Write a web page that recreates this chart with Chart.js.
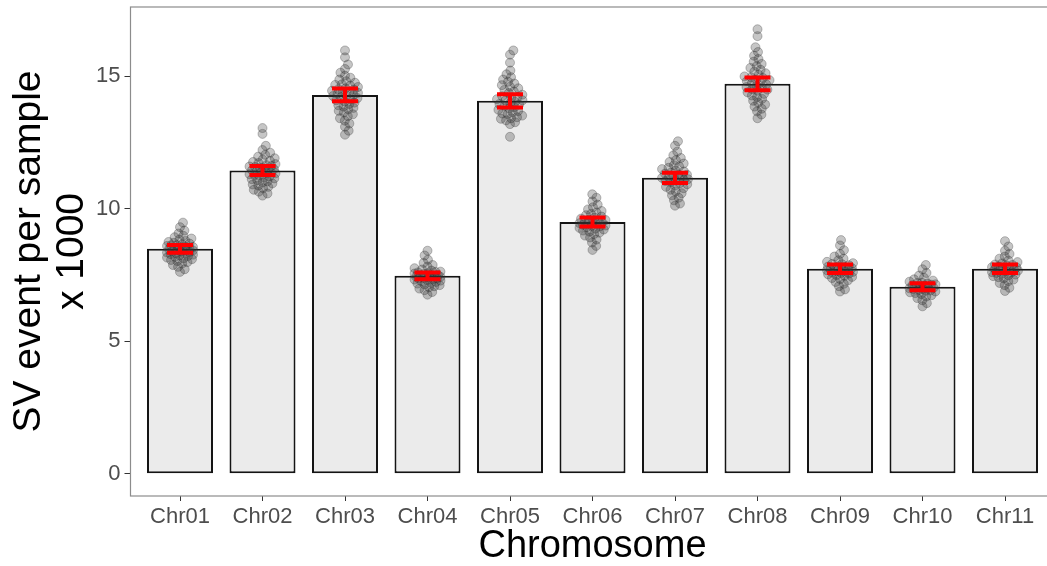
<!DOCTYPE html>
<html>
<head>
<meta charset="utf-8">
<title>SV events per chromosome</title>
<script src="https://cdn.jsdelivr.net/npm/chart.js@4.4.1/dist/chart.umd.min.js"></script>
<style>
  html, body { margin: 0; padding: 0; background: #fff; overflow: hidden; }
  #wrap { width: 1060px; height: 566px; }
</style>
</head>
<body>
<div id="wrap"><canvas id="svChart" width="1060" height="566"></canvas></div>
<script>
// ===== Data =====
const chromosomes = ['Chr01', 'Chr02', 'Chr03', 'Chr04', 'Chr05', 'Chr06', 'Chr07', 'Chr08', 'Chr09', 'Chr10', 'Chr11'];

// mean SV events per sample (x 1000) and standard error
const meanEvents = [8.49, 11.45, 14.30, 7.47, 14.08, 9.50, 11.17, 14.72, 7.74, 7.06, 7.74];
const stdErr = [0.15, 0.17, 0.24, 0.13, 0.25, 0.17, 0.19, 0.24, 0.16, 0.13, 0.16];

// per-sample counts (x 1000)
const chr01 = [9.48, 9.31, 9.18, 9.07, 8.98, 8.93, 8.88, 8.84, 8.79, 8.75, 8.72, 8.69, 8.66, 8.63, 8.60, 8.58, 8.56, 8.53, 8.51, 8.49, 8.47, 8.45, 8.43, 8.41, 8.39, 8.37, 8.35, 8.33, 8.31, 8.29, 8.27, 8.25, 8.22, 8.19, 8.16, 8.13, 8.10, 8.07, 8.03, 7.99, 7.94, 7.88, 7.81, 7.72, 7.62, 8.54, 8.62, 8.44];
const chr02 = [13.05, 12.83, 12.38, 12.22, 12.12, 12.04, 11.97, 11.91, 11.86, 11.81, 11.77, 11.73, 11.69, 11.65, 11.62, 11.58, 11.55, 11.52, 11.49, 11.46, 11.43, 11.40, 11.37, 11.34, 11.31, 11.28, 11.25, 11.22, 11.18, 11.15, 11.12, 11.08, 11.04, 11.00, 10.96, 10.92, 10.88, 10.83, 10.78, 10.72, 10.65, 10.58, 10.50, 11.50, 11.36, 11.60];
const chr03 = [15.98, 15.72, 15.45, 15.28, 15.14, 15.03, 14.95, 14.88, 14.82, 14.76, 14.70, 14.65, 14.60, 14.55, 14.50, 14.46, 14.42, 14.38, 14.34, 14.30, 14.26, 14.22, 14.18, 14.14, 14.10, 14.06, 14.01, 13.96, 13.91, 13.86, 13.81, 13.76, 13.70, 13.64, 13.57, 13.50, 13.42, 13.33, 13.22, 13.10, 12.95, 12.80, 14.40, 14.52, 14.28, 14.68];
const chr04 = [8.42, 8.24, 8.08, 7.96, 7.88, 7.82, 7.76, 7.71, 7.67, 7.63, 7.60, 7.57, 7.54, 7.51, 7.49, 7.47, 7.45, 7.43, 7.41, 7.39, 7.37, 7.35, 7.33, 7.31, 7.29, 7.27, 7.24, 7.21, 7.18, 7.15, 7.12, 7.08, 7.04, 6.99, 6.93, 6.86, 6.76, 7.50, 7.44, 7.56, 7.38, 7.62];
const chr05 = [15.98, 15.82, 15.52, 15.22, 15.08, 14.97, 14.88, 14.80, 14.73, 14.67, 14.61, 14.55, 14.49, 14.43, 14.37, 14.31, 14.25, 14.19, 14.14, 14.09, 14.04, 13.99, 13.94, 13.89, 13.84, 13.79, 13.74, 13.69, 13.64, 13.58, 13.52, 13.46, 13.40, 13.34, 13.27, 13.20, 12.72, 14.10, 13.96, 14.22, 13.60, 13.42];
const chr06 = [10.55, 10.42, 10.28, 10.16, 10.06, 9.98, 9.92, 9.86, 9.81, 9.76, 9.71, 9.67, 9.63, 9.59, 9.55, 9.52, 9.49, 9.46, 9.43, 9.40, 9.37, 9.34, 9.31, 9.28, 9.25, 9.22, 9.18, 9.14, 9.10, 9.05, 8.99, 8.92, 8.84, 8.73, 8.60, 8.45, 9.50, 9.58, 9.44, 9.36];
const chr07 = [12.55, 12.38, 12.16, 12.02, 11.92, 11.84, 11.77, 11.71, 11.65, 11.60, 11.55, 11.50, 11.45, 11.41, 11.37, 11.33, 11.29, 11.25, 11.21, 11.17, 11.13, 11.09, 11.05, 11.01, 10.97, 10.93, 10.88, 10.83, 10.78, 10.72, 10.66, 10.59, 10.51, 10.42, 10.32, 10.20, 10.12, 11.20, 11.12, 11.30, 11.06];
const chr08 = [16.78, 16.52, 16.10, 15.92, 15.78, 15.66, 15.56, 15.47, 15.39, 15.32, 15.25, 15.18, 15.12, 15.06, 15.00, 14.94, 14.88, 14.82, 14.76, 14.70, 14.64, 14.58, 14.52, 14.46, 14.40, 14.34, 14.28, 14.22, 14.15, 14.08, 14.01, 13.94, 13.86, 13.78, 13.68, 13.56, 13.42, 14.74, 14.86, 14.60, 14.96, 14.50];
const chr09 = [8.82, 8.62, 8.44, 8.30, 8.20, 8.12, 8.06, 8.00, 7.95, 7.91, 7.87, 7.83, 7.80, 7.77, 7.74, 7.71, 7.68, 7.65, 7.62, 7.59, 7.56, 7.53, 7.50, 7.47, 7.43, 7.39, 7.35, 7.30, 7.24, 7.17, 7.08, 6.96, 6.88, 7.76, 7.70, 7.82, 7.64, 7.92, 7.58];
const chr10 = [7.88, 7.72, 7.58, 7.48, 7.40, 7.34, 7.29, 7.25, 7.21, 7.18, 7.15, 7.12, 7.09, 7.06, 7.03, 7.00, 6.97, 6.94, 6.91, 6.88, 6.85, 6.82, 6.78, 6.74, 6.69, 6.63, 6.55, 6.44, 6.32, 7.08, 7.02, 7.14, 6.98, 7.20, 6.92];
const chr11 = [8.78, 8.58, 8.42, 8.30, 8.20, 8.12, 8.05, 7.99, 7.94, 7.90, 7.86, 7.82, 7.79, 7.76, 7.73, 7.70, 7.67, 7.64, 7.61, 7.58, 7.55, 7.52, 7.49, 7.46, 7.42, 7.38, 7.33, 7.27, 7.20, 7.12, 7.02, 6.90, 7.75, 7.80, 7.68, 7.88, 7.60];
const samples = [chr01, chr02, chr03, chr04, chr05, chr06, chr07, chr08, chr09, chr10, chr11];

const yTicks = [0, 5, 10, 15];

// ===== Beeswarm layout =====
// approximate pixel sizes of one unit on each axis, used only to spread the dots
const PX_PER_X = 82.7;
const PX_PER_Y = 26.5;
const SWARM_SPACING = 5.4;
const SWARM_HALF_WIDTH = 13;

function swarmOffsets(values) {
  const order = values.map((v, k) => k).sort((a, b) => values[a] - values[b]);
  const placed = [];
  const out = new Array(values.length);
  const d2 = SWARM_SPACING * SWARM_SPACING;
  order.forEach(k => {
    const y = values[k] * PX_PER_Y;
    const near = placed.filter(p => Math.abs(p.y - y) < SWARM_SPACING);
    const cands = [0];
    near.forEach(p => {
      const dx = Math.sqrt(d2 - (p.y - y) * (p.y - y));
      cands.push(p.x + dx, p.x - dx);
    });
    cands.sort((a, b) => Math.abs(a) - Math.abs(b));
    let x = cands.find(c => Math.abs(c) <= SWARM_HALF_WIDTH &&
      near.every(p => (p.x - c) ** 2 + (p.y - y) ** 2 >= d2 - 1e-6));
    if (x === undefined) {
      // no free slot inside the swarm width: take the least crowded spot
      let best = -Infinity;
      for (let c = -SWARM_HALF_WIDTH; c <= SWARM_HALF_WIDTH; c += 0.5) {
        const dmin = Math.min(...near.map(p => (p.x - c) ** 2 + (p.y - y) ** 2));
        if (dmin > best) { best = dmin; x = c; }
      }
    }
    placed.push({ x, y });
    out[k] = x / PX_PER_X;
  });
  return out;
}

const swarmPoints = [];
samples.forEach((vals, i) => {
  const offs = swarmOffsets(vals);
  vals.forEach((v, k) => swarmPoints.push({ x: i + offs[k], y: v }));
});

// ===== Plugins =====
const errorBars = {
  id: 'errorBars',
  afterDatasetsDraw(chart) {
    const { ctx, scales: { x, y } } = chart;
    ctx.save();
    ctx.strokeStyle = '#FF0000';
    ctx.lineWidth = 4;
    meanEvents.forEach((m, i) => {
      const cx = x.getPixelForValue(i);
      const top = y.getPixelForValue(m + stdErr[i]);
      const bot = y.getPixelForValue(m - stdErr[i]);
      ctx.beginPath();
      ctx.moveTo(cx, top);
      ctx.lineTo(cx, bot);
      ctx.moveTo(cx - 13, top);
      ctx.lineTo(cx + 13, top);
      ctx.moveTo(cx - 13, bot);
      ctx.lineTo(cx + 13, bot);
      ctx.stroke();
    });
    ctx.restore();
  }
};

const panelBorder = {
  id: 'panelBorder',
  afterDraw(chart) {
    const { ctx, chartArea: a } = chart;
    ctx.save();
    ctx.strokeStyle = '#8c8c8c';
    ctx.lineWidth = 1.2;
    ctx.strokeRect(a.left, a.top, a.right - a.left, a.bottom - a.top);
    ctx.restore();
  }
};

// ===== Chart =====
Chart.defaults.font.family = '"Liberation Sans", Arial, Helvetica, sans-serif';

new Chart(document.getElementById('svChart'), {
  type: 'bar',
  data: {
    datasets: [
      {
        type: 'scatter',
        data: swarmPoints,
        pointRadius: 4.5,
        pointBackgroundColor: 'rgba(50, 50, 50, 0.28)',
        pointBorderColor: 'rgba(50, 50, 50, 0.3)',
        pointBorderWidth: 1,
        order: 1
      },
      {
        type: 'bar',
        data: meanEvents.map((m, i) => ({ x: i, y: m })),
        backgroundColor: '#EBEBEB',
        borderColor: '#141414',
        borderWidth: 2,
        borderSkipped: false,
        categoryPercentage: 1,
        barPercentage: 0.8,
        order: 2
      }
    ]
  },
  options: {
    responsive: false,
    animation: false,
    layout: { padding: { top: 7, right: 3.4, left: 0, bottom: 0 } },
    plugins: {
      legend: { display: false },
      tooltip: { enabled: false }
    },
    scales: {
      x: {
        type: 'linear',
        min: -0.6,
        max: 10.6,
        offset: false,
        afterBuildTicks(scale) {
          scale.ticks = chromosomes.map((c, i) => ({ value: i }));
        },
        afterFit(scale) {
          scale.height = 70;
          scale.paddingLeft = 0;
          scale.paddingRight = 0;
        },
        border: { display: false },
        grid: { offset: false, drawOnChartArea: false, drawTicks: true, tickLength: 5, color: '#333333', lineWidth: 1 },
        ticks: {
          autoSkip: false,
          maxRotation: 0,
          padding: 3,
          color: '#4D4D4D',
          font: { size: 22 },
          callback: v => chromosomes[v]
        },
        title: {
          display: true,
          text: 'Chromosome',
          color: '#000000',
          font: { size: 38, lineHeight: 1 },
          padding: { top: 0, bottom: 0 }
        }
      },
      y: {
        min: -0.84,
        max: 17.62,
        afterBuildTicks(scale) {
          scale.ticks = yTicks.map(v => ({ value: v }));
        },
        afterFit(scale) {
          scale.width = 130.5;
          scale.paddingTop = 0;
          scale.paddingBottom = 0;
        },
        border: { display: false },
        grid: { drawOnChartArea: false, drawTicks: true, tickLength: 6, color: '#333333', lineWidth: 1 },
        ticks: {
          padding: 4,
          color: '#4D4D4D',
          font: { size: 22 }
        },
        title: {
          display: true,
          text: ['SV event per sample', 'x 1000'],
          color: '#000000',
          font: { size: 39, lineHeight: 1.1 },
          padding: { top: 8, bottom: 0 }
        }
      }
    }
  },
  plugins: [errorBars, panelBorder]
});
</script>
</body>
</html>
